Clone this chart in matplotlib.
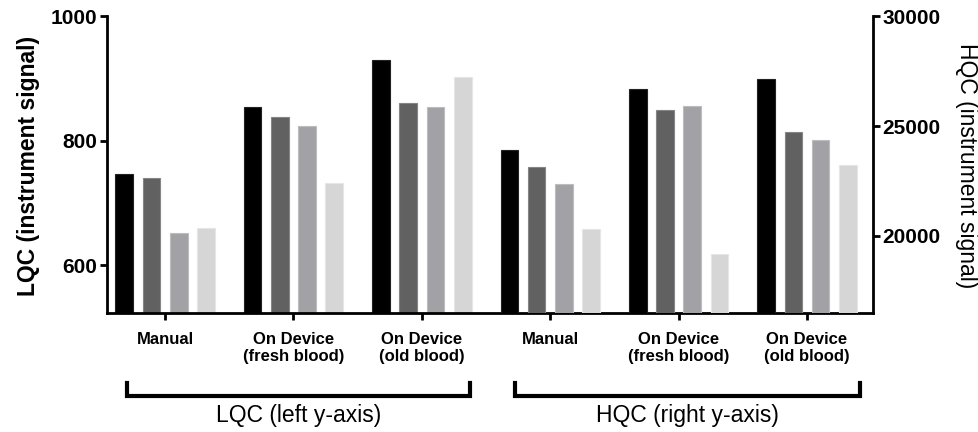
import numpy as np
import matplotlib.pyplot as plt

plt.rcParams['font.family'] = ['Liberation Sans', 'DejaVu Sans']

# group names along the x axis
groups = ['Manual', 'On Device\n(fresh blood)', 'On Device\n(old blood)',
          'Manual', 'On Device\n(fresh blood)', 'On Device\n(old blood)']

# LQC signal (left axis), four replicates per group
lqc = [[746, 740, 652, 659],
       [854, 837, 823, 731],
       [930, 861, 854, 902]]

# HQC signal (right axis), four replicates per group
hqc = [[23900, 23150, 22350, 20300],
       [26700, 25750, 25900, 19170],
       [27120, 24750, 24350, 23220]]

bar_colors = ['#000000', '#616161', '#a2a2a6', '#d6d6d6']
edge_colors = ['#222222', '#858585', '#bdbdc0', '#e6e6e6']

pitch = 0.212
width = 0.138
offsets = (np.arange(4) - 1.5) * pitch

fig = plt.figure(figsize=(9.79, 4.32), dpi=100)
ax = fig.add_axes([107/979, 1 - 313/432, (873 - 107)/979, (313 - 16)/432])
ax2 = ax.twinx()

x_left = np.arange(3)
x_right = np.arange(3, 6)
for i in range(4):
    ax.bar(x_left + offsets[i], [g[i] for g in lqc], width=width,
           color=bar_colors[i], edgecolor=edge_colors[i], linewidth=0.8, zorder=2)
    ax2.bar(x_right + offsets[i], [g[i] for g in hqc], width=width,
            color=bar_colors[i], edgecolor=edge_colors[i], linewidth=0.8, zorder=2)

ax.set_xlim(-0.452, 5.514)
ax.set_ylim(523, 1000)
ax2.set_ylim(16500, 30000)

ax.set_yticks([600, 800, 1000])
ax2.set_yticks([20000, 25000, 30000])
ax.set_xticks(np.arange(6))
ax.set_xticklabels(groups, fontweight='bold', fontsize=12, linespacing=1.15)

for a in (ax, ax2):
    a.spines['top'].set_visible(False)
    for s in a.spines.values():
        s.set_linewidth(2)
    a.tick_params(width=2, length=5, direction='out')
ax.spines['right'].set_visible(False)
ax2.spines['left'].set_visible(False)
ax2.spines['bottom'].set_visible(False)
ax.tick_params(axis='x', pad=9)
ax.tick_params(axis='y', labelsize=15, pad=2)
ax2.tick_params(axis='y', labelsize=15, pad=2)
for lab in ax.get_yticklabels() + ax2.get_yticklabels():
    lab.set_fontweight('bold')

# brackets under each half of the chart
trans = ax.get_xaxis_transform()
brackets = [(-0.296, 2.375, 'LQC (left y-axis)'), (2.726, 5.413, 'HQC (right y-axis)')]
for x0, x1, label in brackets:
    ax.plot([x0, x0, x1, x1], [-0.236, -0.278, -0.278, -0.236], color='black',
            lw=3, transform=trans, clip_on=False, solid_joinstyle='miter')
    ax.text((x0 + x1) / 2, -0.345, label, transform=trans, ha='center', va='center',
            fontsize=16.5)

fig.text(29/979, 1 - 166/432, 'LQC (instrument signal)', rotation=90,
         ha='center', va='center', fontsize=16.5, fontweight='bold')
fig.text(967/979, 1 - 166/432, 'HQC (instrument signal)', rotation=270,
         ha='center', va='center', fontsize=16.5)

fig.savefig('out.png', dpi=100)
